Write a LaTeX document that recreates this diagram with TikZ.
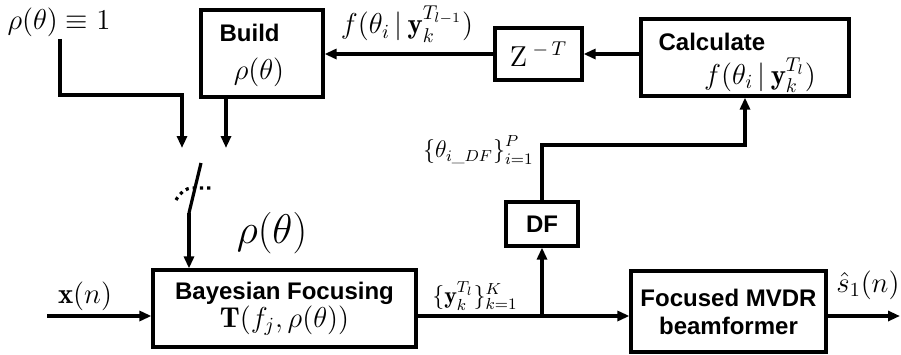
\documentclass[tikz,border=0pt]{standalone}
\usepackage{fontspec}
\setsansfont{Liberation Sans}
\usetikzlibrary{arrows.meta, positioning, calc}
\usepackage{amsmath}

\begin{document}
\begin{tikzpicture}[
	x=0.5pt, y=-0.5pt,
	block/.style={rectangle, draw, line width=1.6pt, align=center, inner sep=2pt, font=\sffamily\bfseries\fontsize{12}{14}\selectfont},
	tag/.style={inner sep=1pt, font=\large},
	arrow/.style={-{Triangle[length=6pt, width=5pt]}, line width=1.6pt},
	wire/.style={line width=1.6pt}
	]
	\useasboundingbox (0,0) rectangle (901,354);
	
	% blocks
	\node[block, minimum width=61pt, minimum height=43.5pt] (build) at (262,53.5) {};
	\node[block, minimum width=43.5pt, minimum height=26pt, font=\Large] (zt) at (538.5,54) {$\mathrm{Z}^{\;-\,T}$};
	\node[block, minimum width=104pt, minimum height=38.5pt] (calc) at (745,57.5) {};
	\node[block, minimum width=36pt, minimum height=22pt] (df) at (542,224) {DF};
	\node[block, minimum width=131.5pt, minimum height=38.5pt] (bayes) at (284.5,308.5) {Bayesian Focusing\\[0pt]\normalfont\Large$\mathbf{T}(f_j,\rho(\theta))$};
	\node[block, minimum width=97.5pt, minimum height=40.5pt] (mvdr) at (728.5,311.5) {Focused MVDR\\beamformer};
	
	% text inside build / calculate
	\node[block, draw=none, anchor=west] (buildtxt) at (214,33) {Build};
	\node[tag, font=\Large] (buildrho) at (259,72) {$\rho(\theta)$};
	\node[block, draw=none, anchor=west] (calctxt) at (653,42) {Calculate};
	\node[tag, font=\Large] (calcf) at (760,75) {$f(\theta_i\,|\,\mathbf{y}_k^{T_l})$};
	
	% labels
	\node[tag, font=\Large] (rhoone) at (59,22) {$\rho(\theta)\equiv1$};
	\node[tag, font=\Large] (fprev) at (407,24) {$f(\theta_i\,|\,\mathbf{y}_k^{T_{l-1}})$};
	\node[tag, anchor=east] (thdf) at (536,150) {$\left\{\theta_{i\_DF}\right\}_{i=1}^{P}$};
	\node[tag] (ylab) at (475,296) {$\{\mathbf{y}^{T_l}_{k}\}_{k=1}^{K}$};
	\node[tag, font=\huge] (rhobig) at (272,233) {$\rho(\theta)$};
	\node[tag, font=\Large] (xlab) at (85,296) {$\mathbf{x}(n)$};
	\node[tag, font=\Large] (slab) at (868,285) {$\hat{s}_1(n)$};
	
	% coordinates
	\coordinate (in) at (47,316);
	\coordinate (br) at (542,316);
	\coordinate (out) at (900,316);
	\coordinate (tapA) at (182,148);
	\coordinate (tapB) at (226,148);
	\coordinate (sw1) at (201,163);
	\coordinate (sw2) at (189,213);
	\coordinate (bend) at (745,145);
	
	% feedback path
	\draw[arrow] (calc.west |- zt.east) -- (zt.east);
	\draw[arrow] (zt.west) -- (build.east |- zt.west);
	\draw[arrow] (build.south -| tapB) -- (tapB);
	\draw[arrow] (rhoone.south -| 60,0) |- (60,95) -| (tapA);
	
	% switch
	\draw[wire] (sw1) -- (sw2);
	\draw[line width=1.6pt, dotted] (176,200) to[out=60,in=180] (193,188) -- (212,188);
	\draw[arrow] (sw2) -- (sw2 |- bayes.north);
	
	% forward path
	\draw[arrow] (in) -- (in -| bayes.west);
	\draw[arrow] (bayes.east |- in) -- (mvdr.west |- in);
	\draw[arrow] (br) -- (df.south);
	\draw[arrow] (df.north) |- (bend) -- (bend |- calc.south);
	\draw[arrow] (mvdr.east |- in) -- (out);
\end{tikzpicture}
\end{document}
